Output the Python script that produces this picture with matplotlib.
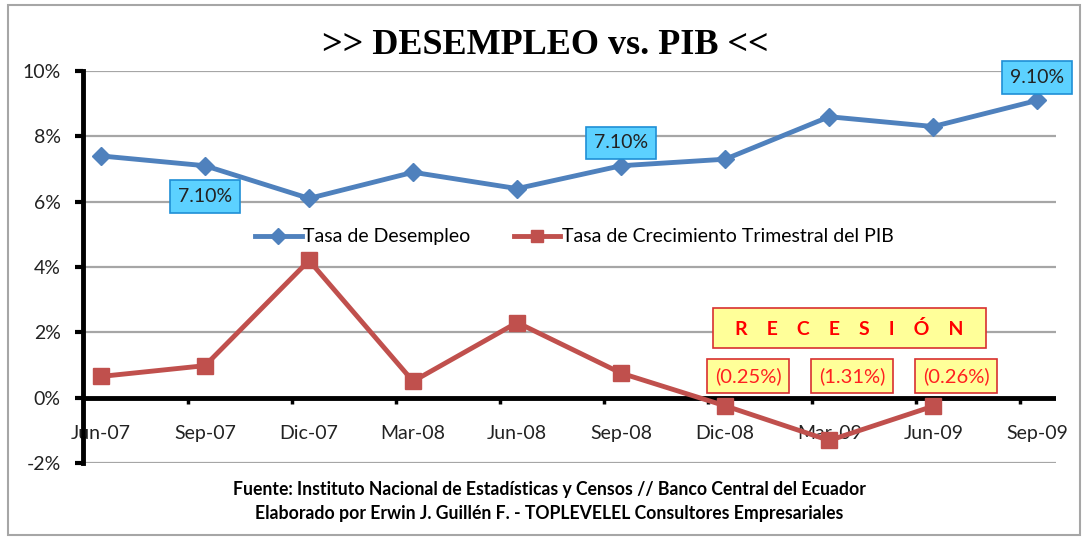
import matplotlib
matplotlib.use("Agg")
import matplotlib.pyplot as plt
from matplotlib.patches import Rectangle

# datos trimestrales
trimestres = ["Jun-07", "Sep-07", "Dic-07", "Mar-08", "Jun-08",
              "Sep-08", "Dic-08", "Mar-09", "Jun-09", "Sep-09"]
desempleo = [7.4, 7.1, 6.1, 6.9, 6.4, 7.1, 7.3, 8.6, 8.3, 9.1]
pib = [0.65, 0.98, 4.2, 0.5, 2.3, 0.75, -0.25, -1.31, -0.26, None]
yticks = [-2, 0, 2, 4, 6, 8, 10]

azul = "#4F81BD"
rojo = "#C0504D"

plt.rcParams["font.family"] = ["Lato", "DejaVu Sans"]

fig = plt.figure(figsize=(10.85, 5.38), dpi=100)
ax = fig.add_axes([83 / 1085, 1 - 463 / 538, (1056 - 83) / 1085, 392 / 538])

x = list(range(len(trimestres)))
ax.plot(x, desempleo, color=azul, lw=3.5, marker="D", ms=9.5,
        label="Tasa de Desempleo", zorder=3)
xp = [i for i, v in zip(x, pib) if v is not None]
yp = [v for v in pib if v is not None]
ax.plot(xp, yp, color=rojo, lw=3.5, marker="s", ms=11,
        label="Tasa de Crecimiento Trimestral del PIB", zorder=3)

ax.set_xlim(-0.173, 9.18)
ax.set_ylim(-2, 10)
ax.set_yticks(yticks)
ax.set_yticklabels([f"{t}%" for t in yticks], fontsize=14, color="#222222")
for t in yticks:
    if t != 0:
        ax.axhline(t, color="#A6A6A6", lw=1.6, zorder=1)
ax.axhline(0, color="black", lw=3.5, zorder=2)

for s in ["top", "right", "bottom"]:
    ax.spines[s].set_visible(False)
ax.spines["left"].set_linewidth(3.5)
ax.tick_params(axis="y", length=6, width=3, pad=10)

# marcas del eje x sobre la linea del 0
ax.set_xticks([])
for k in range(1, 10):
    ax.plot([k - 0.163, k - 0.163], [0, -0.18], color="black", lw=2.5,
            zorder=2, solid_capstyle="butt")
for i, lab in enumerate(trimestres):
    ax.text(i, -1.1, lab, ha="center", va="center", fontsize=14,
            color="#222222", zorder=1)

# etiquetas azules
caja_azul = dict(boxstyle="square,pad=0.4", fc="#5CD1FF", ec="#1F8FD6", lw=1.2)
for i, dy in [(1, -0.95), (5, 0.7), (9, 0.7)]:
    ax.text(i, desempleo[i] + dy, f"{desempleo[i]:.2f}%", ha="center",
            va="center", fontsize=14, color="#222222", bbox=caja_azul, zorder=5)

# etiquetas de recesion
caja_roja = dict(boxstyle="square,pad=0.4", fc="#FFFF99", ec="#D83030", lw=1.2)
for i in [6, 7, 8]:
    ax.text(i + 0.22, 0.67, f"({abs(pib[i]):.2f}%)", ha="center", va="center",
            fontsize=14.5, color="#FF2020", bbox=caja_roja, zorder=5)

fig.patches.append(Rectangle((713 / 1085, 190 / 538), 273 / 1085, 40 / 538,
                             transform=fig.transFigure, fc="#FFFF99",
                             ec="#D83030", lw=1.2, zorder=5))
fig.text(849 / 1085, 1 - 329 / 538, "R    E    C    E    S    I    Ó    N",
         ha="center", va="center", fontsize=14, fontweight="bold",
         color="#FF0000", zorder=6)

leg = ax.legend(loc="center", bbox_to_anchor=(0.505, 0.577), ncol=2,
                frameon=False, fontsize=14, columnspacing=2.2,
                handlelength=2.4, handletextpad=0.1)
for h in leg.legend_handles:
    h.set_markersize(8)

fig.text(545 / 1085, 1 - 45 / 538, ">> DESEMPLEO vs. PIB <<",
         ha="center", va="center", fontsize=26, fontweight="bold",
         family="Liberation Serif")

fig.text(549 / 1085, 1 - 490 / 538,
         "Fuente: Instituto Nacional de Estadísticas y Censos // Banco Central del Ecuador",
         ha="center", va="center", fontsize=12.7, fontweight="bold")
fig.text(549 / 1085, 1 - 513 / 538,
         "Elaborado por Erwin J. Guillén F. - TOPLEVELEL Consultores Empresariales",
         ha="center", va="center", fontsize=12.7, fontweight="bold")

fig.patches.append(Rectangle((8 / 1085, 3 / 538), 1072 / 1085, 530 / 538,
                             transform=fig.transFigure, fill=False,
                             ec="#A6A6A6", lw=1.5))

fig.savefig("out.png", dpi=100)
